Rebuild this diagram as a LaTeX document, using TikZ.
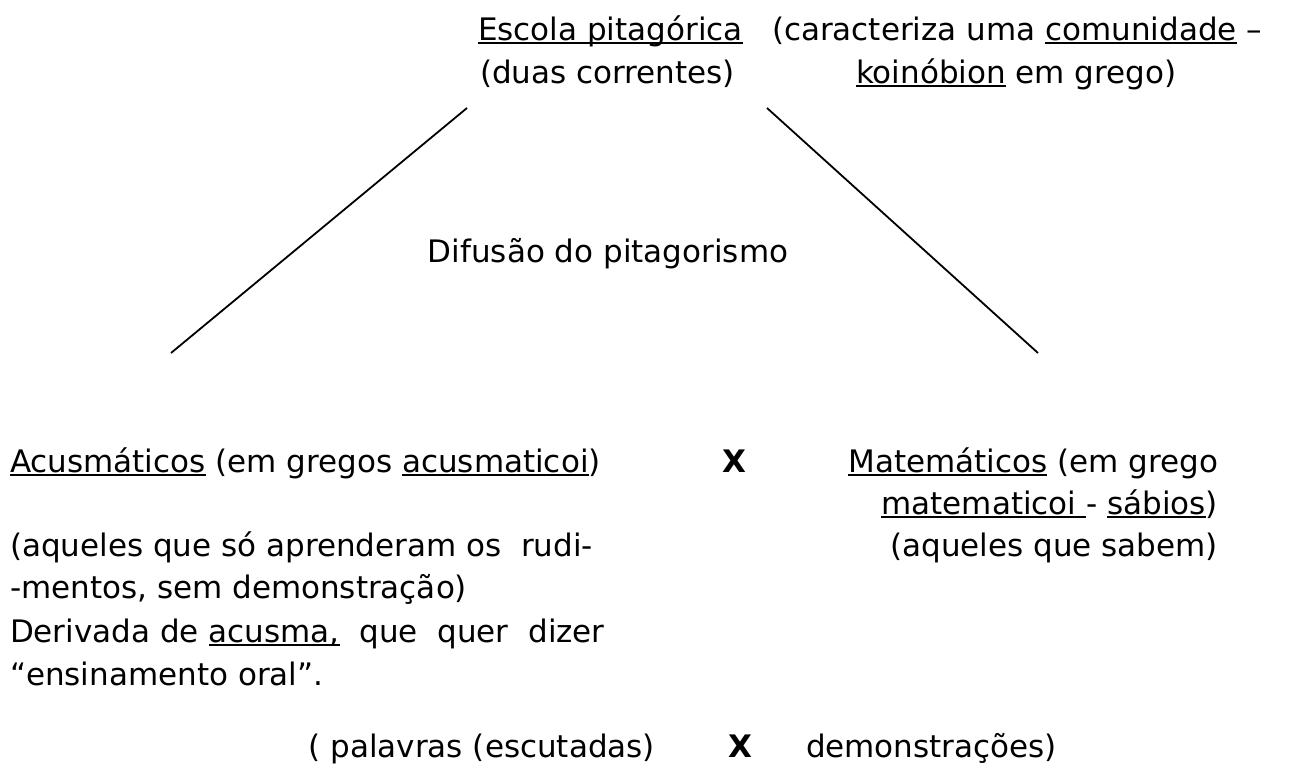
\documentclass[tikz,border=0pt]{standalone}
\usepackage{fontspec}
\setmainfont{DejaVu Sans}
\newlength\ulw
\newcommand\myul[1]{\settowidth\ulw{#1}\rlap{\rule[-0.12em]{\ulw}{0.06em}}#1}
\tikzset{txt/.style={anchor=base west,inner sep=0pt,outer sep=0pt,font=\fontsize{31}{31}\selectfont},
  txtr/.style={txt,anchor=base east},
  conn/.style={line width=1.8pt,black}}
\begin{document}
\begin{tikzpicture}[x=1pt,y=-1pt]
\useasboundingbox (0,0) rectangle (1302,771);
\fill[white] (0,0) rectangle (1302,771);
% top
\node[txt] (escola) at (478,40) {\myul{Escola pitagórica}};
\node[txt] (carac) at (772,40) {(caracteriza uma \myul{comunidade} –};
\node[txt] (duas) at (480,83) {(duas correntes)};
\node[txt] (koin) at (856,83) {\myul{koinóbion} em grego)};
% lines
\coordinate (lt) at (467,108);
\coordinate (lb) at (171,353);
\coordinate (rt) at (767,108);
\coordinate (rb) at (1038,353);
\draw[conn] (lt) -- (lb);
\draw[conn] (rt) -- (rb);
\node[txt,anchor=base] (dif) at (608,262) {Difusão do pitagorismo};
% left column
\node[txt] (acus) at (10,472) {\myul{Acusmáticos} (em gregos \myul{acusmaticoi})};
\node[txt] (aq1) at (10,556) {(aqueles que só aprenderam os\ \ rudi-};
\node[txt] (aq2) at (10,598) {-mentos, sem demonstração)};
\node[txt] (der) at (10,642) {Derivada de \myul{acusma,}\ \ que\ \ quer\ \ dizer};
\node[txt] (ens) at (10,685) {“ensinamento oral”.};
% X
\node[txt] (x1) at (722,472) {\bfseries X};
% right column
\node[txtr] (mat) at (1218,472) {\myul{Matemáticos} (em grego};
\node[txtr] (mat2) at (1218,514) {\myul{matematicoi }- \myul{sábios})};
\node[txtr] (mat3) at (1218,556) {(aqueles que sabem)};
% bottom
\node[txtr] (pal) at (655,757) {( palavras (escutadas)};
\node[txt] (x2) at (728,757) {\bfseries X};
\node[txt] (dem) at (806,757) {demonstrações)};
\end{tikzpicture}
\end{document}
